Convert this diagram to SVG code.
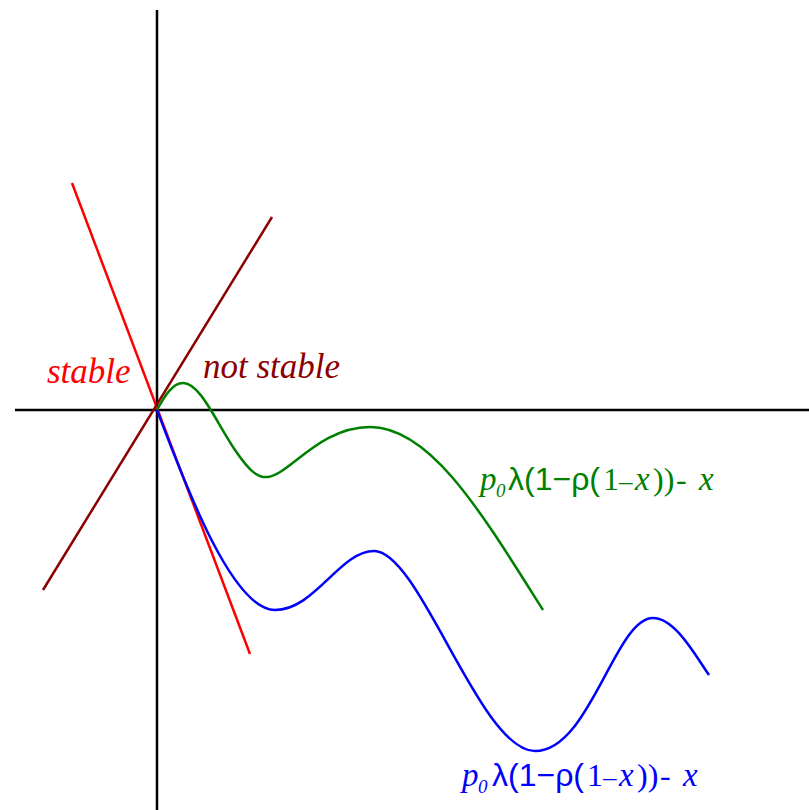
<svg xmlns="http://www.w3.org/2000/svg" width="809" height="810" viewBox="0 0 809 810">
<style>
.ax{stroke:#000;stroke-width:2.5;fill:none}
.c{fill:none;stroke-width:2.5}
.lbl{font-family:"Liberation Serif",serif;font-style:italic;font-size:35px}
.f{font-family:"Liberation Serif",serif;font-style:italic;font-size:33px}
.sub{font-family:"Liberation Serif",serif;font-style:italic;font-size:19px}
.sy{font-family:"Liberation Sans",sans-serif;font-style:normal;font-size:32px}
.up{font-family:"Liberation Serif",serif;font-style:normal;font-size:32px}
.up2{font-family:"Liberation Serif",serif;font-style:normal;font-size:27px}
</style>
<rect width="809" height="810" fill="#fff"/>
<g id="axes">
<line class="ax" x1="15" y1="410" x2="809" y2="410"/>
<line class="ax" x1="157" y1="10" x2="157" y2="810"/>
</g>
<g id="connectors">
<line class="c" stroke="#ff0000" x1="72" y1="183" x2="250" y2="654"/>
<line class="c" stroke="#8b0000" x1="43" y1="590" x2="272" y2="217"/>
<path id="green" class="c" stroke="#008000" d="M157,410 C165,395 173,383 183,383 C200,383 215,420 235,450 C250,472 258,478 268,477 C290,474 320,427 370,427 C430,427 480,510 543,610"/>
<path id="blue" class="c" stroke="#0000ff" d="M157,410 C180,470 230,610 275,610 C315,610 340,551 374,551 C420,551 480,751 535,751 C590,751 615,618 653,618 C675,618 695,655 709,675"/>
</g>
<g id="label-stable"><text class="lbl" x="47" y="383" fill="#ff0000">stable</text></g>
<g id="label-notstable"><text class="lbl" x="203" y="378" fill="#8b0000">not stable</text></g>
<g id="label-green" fill="#008000">
<text class="f" x="480" y="490">p</text>
<text class="sub" x="496" y="497">0</text>
<text class="sy" x="508" y="490">λ(1−ρ(</text>
<text class="up" x="603" y="490">1</text>
<text class="up2" x="619" y="490">–</text>
<text class="f" x="635" y="490">x</text>
<text class="up" x="653" y="490">))</text>
<text class="up" x="676" y="490">-</text>
<text class="f" x="699" y="490">x</text>
</g>
<g id="label-blue" fill="#0000ff">
<text class="f" x="462" y="786">p</text>
<text class="sub" x="478" y="793">0</text>
<text class="sy" x="492" y="786">λ(1−ρ(</text>
<text class="up" x="587" y="786">1</text>
<text class="up2" x="603" y="786">–</text>
<text class="f" x="619" y="786">x</text>
<text class="up" x="637" y="786">))</text>
<text class="up" x="660" y="786">-</text>
<text class="f" x="683" y="786">x</text>
</g>
</svg>
